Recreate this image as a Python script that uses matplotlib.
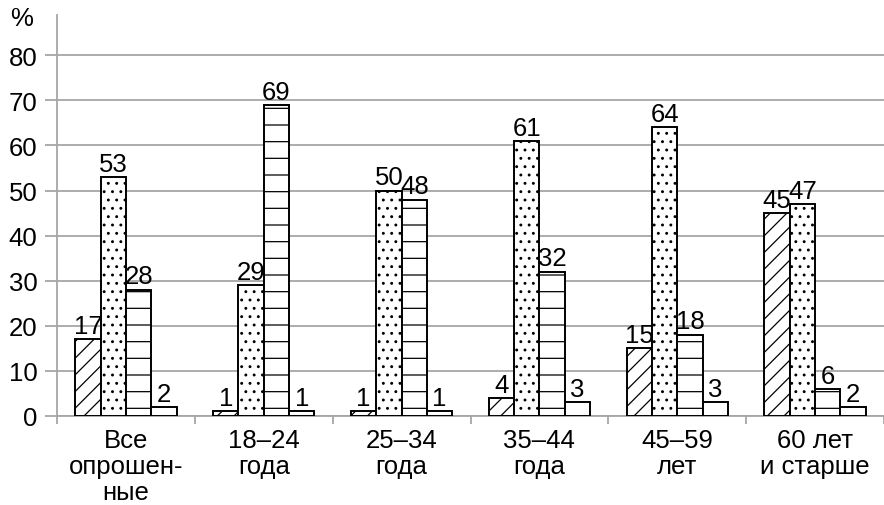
import numpy as np
import matplotlib.pyplot as plt

plt.rcParams['font.family'] = ['Liberation Sans', 'DejaVu Sans']
plt.rcParams['hatch.linewidth'] = 0.9

categories = ['Все\nопрошен-\nные', '18–24\nгода', '25–34\nгода',
              '35–44\nгода', '45–59\nлет', '60 лет\nи старше']
s1 = [17, 1, 1, 4, 15, 45]
s2 = [53, 29, 50, 61, 64, 47]
s3 = [28, 69, 48, 32, 18, 6]
s4 = [2, 1, 1, 3, 3, 2]
series = [s1, s2, s3, s4]
hatches = ['//', '..', '-', '']

fig = plt.figure(figsize=(8.84, 5.06), dpi=100)
ax = fig.add_axes([0.0645, 0.176, 0.9355, 0.792])

x = np.arange(len(categories))
w = 0.184
grid_c = '#a6a6a6'
fs = 18.5
for i, (vals, h) in enumerate(zip(series, hatches)):
    pos = x + (i - 1.5) * w
    ax.bar(pos, vals, w, color='white', edgecolor='black',
           linewidth=1.4, hatch=h, zorder=3)
    for xp, v in zip(pos, vals):
        ax.text(xp, v + 0.3, str(v), ha='center', va='bottom',
                fontsize=fs, zorder=4)

ax.set_xlim(-0.5, len(categories) - 0.5)
ax.set_ylim(0, 88.9)
ax.set_yticks(range(0, 81, 10))
ax.yaxis.grid(True, color=grid_c, lw=1.3, zorder=0)
ax.tick_params(axis='y', length=9, color=grid_c, width=1.3, labelsize=fs, pad=5)

ax.set_xticks(x)
ax.set_xticklabels(categories, fontsize=fs, linespacing=1.1)
ax.set_xticks(np.arange(-0.5, len(categories)), minor=True)
ax.tick_params(axis='x', which='major', length=0, pad=9)
ax.tick_params(axis='x', which='minor', length=6, color=grid_c, width=1.3)

for side in ['top', 'right']:
    ax.spines[side].set_visible(False)
for side in ['left', 'bottom']:
    ax.spines[side].set_color(grid_c)
    ax.spines[side].set_linewidth(1.3)

fig.text(0.012, 0.962, '%', fontsize=fs, ha='left', va='center')

fig.savefig('out.png', dpi=100)
